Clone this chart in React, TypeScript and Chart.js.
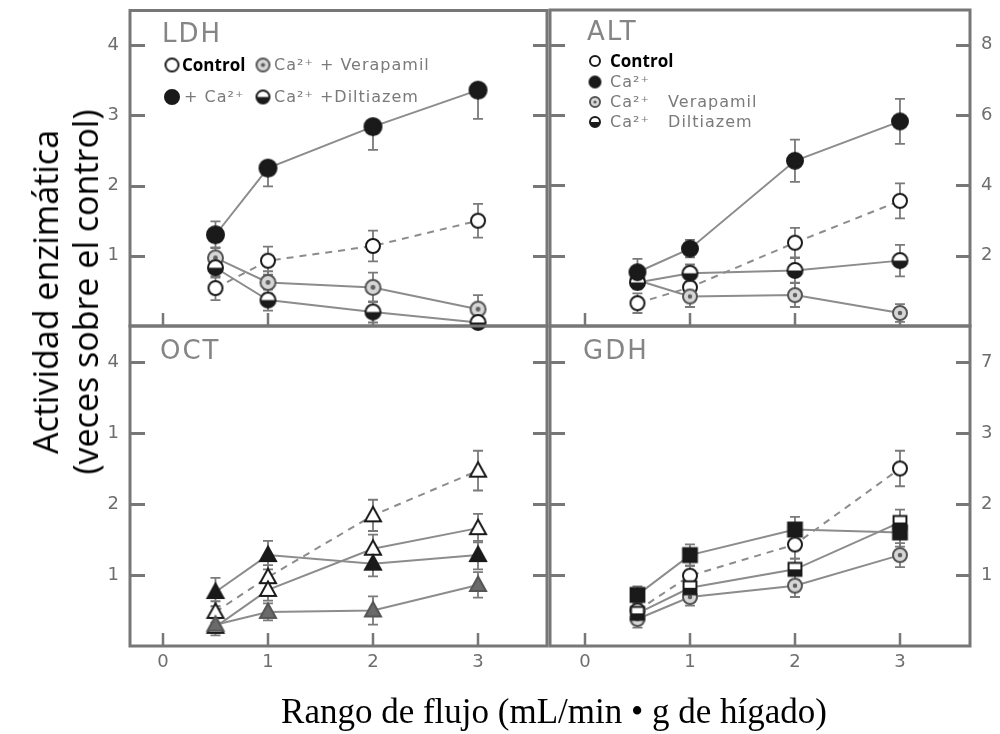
import React, { useEffect, useRef } from 'react';
import { Chart, registerables } from 'chart.js';

Chart.register(...registerables);

// Flow rates (mL/min·g) at which every enzyme was sampled
const flowRates = [0.5, 1, 2, 3];
const xTickValues = [0, 1, 2, 3];
const xTickLabels = ['0', '1', '2', '3'];

// LDH (left axis)
const ldhControl = [0.54, 0.93, 1.14, 1.5];
const ldhControlErr = [0.17, 0.2, 0.22, 0.24];
const ldhCalcium = [1.3, 2.25, 2.84, 3.36];
const ldhCalciumErrUp = [0.19, 0, 0, 0];
const ldhCalciumErrDown = [0.19, 0.26, 0.33, 0.41];
const ldhVerapamil = [0.97, 0.62, 0.55, 0.24];
const ldhVerapamilErr = [0.15, 0.16, 0.21, 0.2];
const ldhDiltiazem = [0.83, 0.37, 0.2, 0.05];
const ldhDiltiazemErr = [0.14, 0.15, 0.15, 0.1];
const ldhTickValues = [1, 2, 3, 4];
const ldhTickLabels = ['1', '2', '3', '4'];

// ALT (right axis)
const altControl = [0.65, 1.1, 2.37, 3.56];
const altControlErr = [0.28, 0.3, 0.42, 0.5];
const altCalcium = [1.53, 2.2, 4.7, 5.82];
const altCalciumErr = [0.38, 0.25, 0.6, 0.64];
const altVerapamil = [1.3, 0.84, 0.88, 0.37];
const altVerapamilErr = [0.2, 0.3, 0.34, 0.25];
const altDiltiazem = [1.24, 1.5, 1.58, 1.86];
const altDiltiazemErr = [0.2, 0.25, 0.35, 0.45];
const altTickValues = [2, 4, 6, 8];
const altTickLabels = ['2', '4', '6', '8'];

// OCT (left axis)
const octControl = [0.48, 0.97, 1.84, 2.47];
const octControlErr = [0.15, 0.17, 0.22, 0.28];
const octCalcium = [0.76, 1.28, 1.16, 1.28];
const octCalciumErr = [0.2, 0.2, 0.18, 0.2];
const octVerapamil = [0.27, 0.79, 1.37, 1.66];
const octVerapamilErr = [0.12, 0.15, 0.2, 0.2];
const octDiltiazem = [0.3, 0.48, 0.5, 0.86];
const octDiltiazemErr = [0.12, 0.12, 0.2, 0.18];
const octTickValues = [1, 2, 3, 4];
const octTickLabels = ['1', '2', '1', '4'];

// GDH (right axis)
const gdhControl = [0.5, 0.99, 1.43, 2.5];
const gdhControlErr = [0.12, 0.14, 0.2, 0.25];
const gdhCalcium = [0.72, 1.28, 1.64, 1.6];
const gdhCalciumErr = [0.12, 0.15, 0.18, 0.2];
const gdhVerapamil = [0.38, 0.69, 0.85, 1.28];
const gdhVerapamilErr = [0.12, 0.12, 0.16, 0.17];
const gdhDiltiazem = [0.46, 0.82, 1.08, 1.74];
const gdhDiltiazemErr = [0.1, 0.12, 0.15, 0.18];
const gdhTickValues = [1, 2, 3, 4];
const gdhTickLabels = ['1', '2', '3', '7'];

type Shape = 'circle' | 'triangle' | 'square';
type Fill = 'open' | 'solid' | 'dot' | 'half' | 'gray';

interface Series {
  label: string;
  values: number[];
  errUp: number[];
  errDown: number[];
  shape: Shape;
  fill: Fill;
  size: number;
  layer: number;
  dashed?: boolean;
}

interface LegendEntry {
  mx: number;
  my: number;
  tx: number;
  shape: Shape;
  fill: Fill;
  size: number;
  text: string;
  bold?: boolean;
}

interface Panel {
  id: string;
  title: string;
  titleX: number;
  titleY: number;
  box: { left: number; top: number; right: number; bottom: number };
  xMin: number;
  xMax: number;
  yMax: number;
  yPosition: 'left' | 'right';
  yTicks: number[];
  yLabels: string[];
  showXLabels: boolean;
  series: Series[];
  legend: LegendEntry[];
}

const PAGE_W = 1000;
const PAGE_H = 734;
const Y_AXIS_W = 28;
const X_AXIS_H = 34;

const INK = '#1a1a1a';
const LINE_GRAY = '#8c8c8c';
const FRAME_GRAY = '#777777';
const TEXT_GRAY = '#7a7a7a';

const PANELS: Panel[] = [
  {
    id: 'ldh',
    title: 'LDH',
    titleX: 162,
    titleY: 35,
    box: { left: 130, top: 8, right: 547, bottom: 326 },
    xMin: -0.314,
    xMax: 3.657,
    yMax: 4.495,
    yPosition: 'left',
    yTicks: ldhTickValues,
    yLabels: ldhTickLabels,
    showXLabels: false,
    series: [
      { label: 'Control', values: ldhControl, errUp: ldhControlErr, errDown: ldhControlErr, shape: 'circle', fill: 'open', size: 7, layer: 3, dashed: true },
      { label: 'Ca²⁺', values: ldhCalcium, errUp: ldhCalciumErrUp, errDown: ldhCalciumErrDown, shape: 'circle', fill: 'solid', size: 8.5, layer: 0 },
      { label: 'Ca²⁺ + Verapamil', values: ldhVerapamil, errUp: ldhVerapamilErr, errDown: ldhVerapamilErr, shape: 'circle', fill: 'dot', size: 7.5, layer: 2 },
      { label: 'Ca²⁺ + Diltiazem', values: ldhDiltiazem, errUp: ldhDiltiazemErr, errDown: ldhDiltiazemErr, shape: 'circle', fill: 'half', size: 7.5, layer: 1 },
    ],
    legend: [
      { mx: 172, my: 65, tx: 182, shape: 'circle', fill: 'open', size: 6.5, text: 'Control', bold: true },
      { mx: 263, my: 65, tx: 274, shape: 'circle', fill: 'dot', size: 6.5, text: 'Ca²⁺ + Verapamil' },
      { mx: 172, my: 97, tx: 184, shape: 'circle', fill: 'solid', size: 7, text: '+ Ca²⁺' },
      { mx: 263, my: 97, tx: 274, shape: 'circle', fill: 'half', size: 6.5, text: 'Ca²⁺ +Diltiazem' },
    ],
  },
  {
    id: 'alt',
    title: 'ALT',
    titleX: 587,
    titleY: 33,
    box: { left: 550, top: 8, right: 970, bottom: 326 },
    xMin: -0.333,
    xMax: 3.667,
    yMax: 8.99,
    yPosition: 'right',
    yTicks: altTickValues,
    yLabels: altTickLabels,
    showXLabels: false,
    series: [
      { label: 'Control', values: altControl, errUp: altControlErr, errDown: altControlErr, shape: 'circle', fill: 'open', size: 7, layer: 3, dashed: true },
      { label: 'Ca²⁺', values: altCalcium, errUp: altCalciumErr, errDown: altCalciumErr, shape: 'circle', fill: 'solid', size: 8, layer: 0 },
      { label: 'Ca²⁺ Verapamil', values: altVerapamil, errUp: altVerapamilErr, errDown: altVerapamilErr, shape: 'circle', fill: 'dot', size: 7, layer: 2 },
      { label: 'Ca²⁺ Diltiazem', values: altDiltiazem, errUp: altDiltiazemErr, errDown: altDiltiazemErr, shape: 'circle', fill: 'half', size: 7.5, layer: 1 },
    ],
    legend: [
      { mx: 595, my: 61, tx: 610, shape: 'circle', fill: 'open', size: 5, text: 'Control', bold: true },
      { mx: 595, my: 82, tx: 610, shape: 'circle', fill: 'solid', size: 5.5, text: 'Ca²⁺' },
      { mx: 595, my: 102, tx: 610, shape: 'circle', fill: 'dot', size: 5, text: 'Ca²⁺   Verapamil' },
      { mx: 595, my: 122, tx: 610, shape: 'circle', fill: 'half', size: 5, text: 'Ca²⁺   Diltiazem' },
    ],
  },
  {
    id: 'oct',
    title: 'OCT',
    titleX: 160,
    titleY: 352,
    box: { left: 130, top: 326, right: 547, bottom: 646 },
    xMin: -0.314,
    xMax: 3.657,
    yMax: 4.507,
    yPosition: 'left',
    yTicks: octTickValues,
    yLabels: octTickLabels,
    showXLabels: true,
    series: [
      { label: 'Control', values: octControl, errUp: octControlErr, errDown: octControlErr, shape: 'triangle', fill: 'open', size: 8, layer: 3, dashed: true },
      { label: 'Ca²⁺', values: octCalcium, errUp: octCalciumErr, errDown: octCalciumErr, shape: 'triangle', fill: 'solid', size: 8, layer: 0 },
      { label: 'Ca²⁺ Verapamil', values: octVerapamil, errUp: octVerapamilErr, errDown: octVerapamilErr, shape: 'triangle', fill: 'open', size: 8, layer: 2 },
      { label: 'Ca²⁺ Diltiazem', values: octDiltiazem, errUp: octDiltiazemErr, errDown: octDiltiazemErr, shape: 'triangle', fill: 'gray', size: 8, layer: 1 },
    ],
    legend: [],
  },
  {
    id: 'gdh',
    title: 'GDH',
    titleX: 583,
    titleY: 352,
    box: { left: 550, top: 326, right: 970, bottom: 646 },
    xMin: -0.333,
    xMax: 3.667,
    yMax: 4.507,
    yPosition: 'right',
    yTicks: gdhTickValues,
    yLabels: gdhTickLabels,
    showXLabels: true,
    series: [
      { label: 'Control', values: gdhControl, errUp: gdhControlErr, errDown: gdhControlErr, shape: 'circle', fill: 'open', size: 7, layer: 3, dashed: true },
      { label: 'Ca²⁺', values: gdhCalcium, errUp: gdhCalciumErr, errDown: gdhCalciumErr, shape: 'square', fill: 'solid', size: 7.5, layer: 0 },
      { label: 'Ca²⁺ Verapamil', values: gdhVerapamil, errUp: gdhVerapamilErr, errDown: gdhVerapamilErr, shape: 'circle', fill: 'dot', size: 7, layer: 2 },
      { label: 'Ca²⁺ Diltiazem', values: gdhDiltiazem, errUp: gdhDiltiazemErr, errDown: gdhDiltiazemErr, shape: 'square', fill: 'half', size: 7, layer: 1 },
    ],
    legend: [],
  },
];

// Small offscreen canvases used as point styles and legend swatches
function makeMarker(shape: Shape, fill: Fill, r: number): HTMLCanvasElement {
  const d = Math.ceil(r * 2 + 6);
  const c = document.createElement('canvas');
  c.width = d;
  c.height = d;
  const g = c.getContext('2d') as CanvasRenderingContext2D;
  const cx = d / 2;
  const cy = d / 2;
  const outline = () => {
    g.beginPath();
    if (shape === 'circle') {
      g.arc(cx, cy, r, 0, Math.PI * 2);
    } else if (shape === 'square') {
      g.rect(cx - r * 0.92, cy - r * 0.92, r * 1.84, r * 1.84);
    } else {
      g.moveTo(cx, cy - r * 1.05);
      g.lineTo(cx + r, cy + r * 0.75);
      g.lineTo(cx - r, cy + r * 0.75);
    }
    g.closePath();
  };
  outline();
  if (fill === 'solid') g.fillStyle = INK;
  else if (fill === 'gray') g.fillStyle = '#6a6a6a';
  else if (fill === 'dot') g.fillStyle = '#d6d6d6';
  else g.fillStyle = '#ffffff';
  g.fill();
  if (fill === 'half') {
    g.save();
    outline();
    g.clip();
    g.fillStyle = INK;
    g.fillRect(0, cy, d, d);
    g.restore();
  }
  if (fill === 'dot') {
    g.beginPath();
    g.arc(cx, cy, Math.max(1.6, r * 0.32), 0, Math.PI * 2);
    g.fillStyle = '#606060';
    g.fill();
  }
  outline();
  g.lineWidth = 2;
  g.strokeStyle = fill === 'dot' || fill === 'gray' ? '#555555' : INK;
  g.stroke();
  return c;
}

// Axes keep a fixed footprint so every chart area lands on its panel box
function fixedFit(scale: any) {
  if (scale.isHorizontal()) scale.height = X_AXIS_H;
  else scale.width = Y_AXIS_W;
  scale.paddingTop = 0;
  scale.paddingBottom = 0;
  scale.paddingLeft = 0;
  scale.paddingRight = 0;
}

function panelDecor(panel: Panel) {
  return {
    id: 'panelDecor',
    beforeDatasetsDraw(chart: any) {
      const { ctx, chartArea: a, scales } = chart;
      const xs = scales.x;
      const ys = scales.y;
      ctx.save();
      // frame
      ctx.strokeStyle = FRAME_GRAY;
      ctx.lineWidth = 3;
      ctx.strokeRect(a.left, a.top, a.right - a.left, a.bottom - a.top);
      // inward tick marks on both vertical edges
      ctx.lineWidth = 3;
      ys.ticks.forEach((t: any) => {
        const py = Math.round(ys.getPixelForValue(t.value)) + 0.5;
        ctx.beginPath();
        ctx.moveTo(a.left, py);
        ctx.lineTo(a.left + 15, py);
        ctx.moveTo(a.right - 14, py);
        ctx.lineTo(a.right, py);
        ctx.stroke();
      });
      // inward tick marks on the bottom edge
      ctx.lineWidth = 2.5;
      xs.ticks.forEach((t: any) => {
        const px = Math.round(xs.getPixelForValue(t.value));
        ctx.beginPath();
        ctx.moveTo(px, a.bottom);
        ctx.lineTo(px, a.bottom - 13);
        ctx.stroke();
      });
      // error bars
      ctx.strokeStyle = '#7a7a7a';
      ctx.lineWidth = 1.8;
      panel.series.forEach((s) => {
        flowRates.forEach((fx, j) => {
          const px = xs.getPixelForValue(fx);
          const v = s.values[j];
          const top = ys.getPixelForValue(v + s.errUp[j]);
          const bot = ys.getPixelForValue(Math.max(0, v - s.errDown[j]));
          const mid = ys.getPixelForValue(v);
          ctx.beginPath();
          if (s.errUp[j] > 0) {
            ctx.moveTo(px, mid);
            ctx.lineTo(px, top);
            ctx.moveTo(px - 5, top);
            ctx.lineTo(px + 5, top);
          }
          if (s.errDown[j] > 0) {
            ctx.moveTo(px, mid);
            ctx.lineTo(px, bot);
            ctx.moveTo(px - 5, bot);
            ctx.lineTo(px + 5, bot);
          }
          ctx.stroke();
        });
      });
      ctx.restore();
    },
    afterDraw(chart: any) {
      const { ctx } = chart;
      ctx.save();
      ctx.fillStyle = '#858585';
      ctx.font = '26px "DejaVu Sans"';
      (ctx as any).letterSpacing = '2px';
      ctx.textBaseline = 'middle';
      ctx.textAlign = 'left';
      ctx.fillText(panel.title, panel.titleX, panel.titleY);
      panel.legend.forEach((e) => {
        const m = makeMarker(e.shape, e.fill, e.size);
        ctx.drawImage(m, e.mx - m.width / 2, e.my - m.height / 2);
        if (e.bold) {
          ctx.font = 'bold 17px "Open Sans"';
          ctx.fillStyle = '#000000';
          (ctx as any).letterSpacing = '0px';
        } else {
          ctx.font = '16px "DejaVu Sans"';
          ctx.fillStyle = TEXT_GRAY;
          (ctx as any).letterSpacing = '1px';
        }
        ctx.fillText(e.text, e.tx, e.my + 1);
      });
      ctx.restore();
    },
  };
}

function buildChart(canvas: HTMLCanvasElement, panel: Panel): Chart {
  const datasets = panel.series.map((s) => ({
    label: s.label,
    data: flowRates.map((x, i) => ({ x, y: s.values[i] })),
    order: s.layer,
    borderColor: LINE_GRAY,
    borderWidth: 2,
    borderDash: s.dashed ? [7, 6] : [],
    pointStyle: makeMarker(s.shape, s.fill, s.size) as any,
    pointRadius: s.size,
    pointHoverRadius: s.size,
    tension: 0,
    fill: false,
    clip: 12,
  }));

  const tickFont = { family: '"DejaVu Sans"', size: 18 };
  const leftAxis = panel.yPosition === 'left';

  return new Chart(canvas, {
    type: 'line',
    data: { datasets },
    plugins: [panelDecor(panel)],
    options: {
      animation: false,
      responsive: false,
      devicePixelRatio: 1,
      events: [],
      layout: {
        padding: {
          left: panel.box.left - (leftAxis ? Y_AXIS_W : 0),
          top: panel.box.top,
          right: PAGE_W - panel.box.right - (leftAxis ? 0 : Y_AXIS_W),
          bottom: PAGE_H - panel.box.bottom - X_AXIS_H,
        },
      },
      plugins: {
        legend: { display: false },
        tooltip: { enabled: false },
        title: { display: false },
      },
      scales: {
        x: {
          type: 'linear',
          position: 'bottom',
          min: panel.xMin,
          max: panel.xMax,
          afterFit: fixedFit,
          afterBuildTicks: (scale: any) => {
            scale.ticks = xTickValues.map((v) => ({ value: v }));
          },
          grid: { display: false, drawTicks: false },
          border: { display: false },
          ticks: {
            display: panel.showXLabels,
            autoSkip: false,
            maxRotation: 0,
            padding: 6,
            color: '#6e6e6e',
            font: tickFont,
            callback: (_v: any, i: number) => xTickLabels[i],
          },
        },
        y: {
          type: 'linear',
          position: panel.yPosition,
          min: 0,
          max: panel.yMax,
          afterFit: fixedFit,
          afterBuildTicks: (scale: any) => {
            scale.ticks = panel.yTicks.map((v) => ({ value: v }));
          },
          grid: { display: false, drawTicks: false },
          border: { display: false },
          ticks: {
            autoSkip: false,
            padding: 11,
            color: '#6e6e6e',
            font: tickFont,
            callback: (_v: any, i: number) => panel.yLabels[i],
          },
        },
      },
    } as any,
  });
}

export default function App() {
  const canvasRefs = useRef<(HTMLCanvasElement | null)[]>([]);

  useEffect(() => {
    const charts = PANELS.map((p, i) => buildChart(canvasRefs.current[i] as HTMLCanvasElement, p));
    return () => charts.forEach((c) => c.destroy());
  }, []);

  return (
    <div
      style={{
        position: 'absolute',
        left: 0,
        top: 0,
        width: PAGE_W,
        height: PAGE_H,
        background: '#ffffff',
        overflow: 'hidden',
      }}
    >
      {PANELS.map((p, i) => (
        <canvas
          key={p.id}
          ref={(el) => {
            canvasRefs.current[i] = el;
          }}
          width={PAGE_W}
          height={PAGE_H}
          style={{ position: 'absolute', left: 0, top: 0, width: PAGE_W, height: PAGE_H }}
        />
      ))}
      <div
        style={{
          position: 'absolute',
          left: 65,
          top: 292,
          transform: 'translate(-50%, -50%) rotate(-90deg)',
          whiteSpace: 'nowrap',
          textAlign: 'center',
          fontFamily: '"Open Sans", sans-serif',
          fontSize: 34,
          lineHeight: '40px',
          color: '#000000',
        }}
      >
        Actividad enzimática
        <br />
        (veces sobre el control)
      </div>
      <div
        style={{
          position: 'absolute',
          left: 554,
          top: 712,
          transform: 'translate(-50%, -50%)',
          whiteSpace: 'nowrap',
          fontFamily: '"Liberation Serif", serif',
          fontSize: 35,
          color: '#000000',
        }}
      >
        Rango de flujo (mL/min • g de hígado)
      </div>
    </div>
  );
}
